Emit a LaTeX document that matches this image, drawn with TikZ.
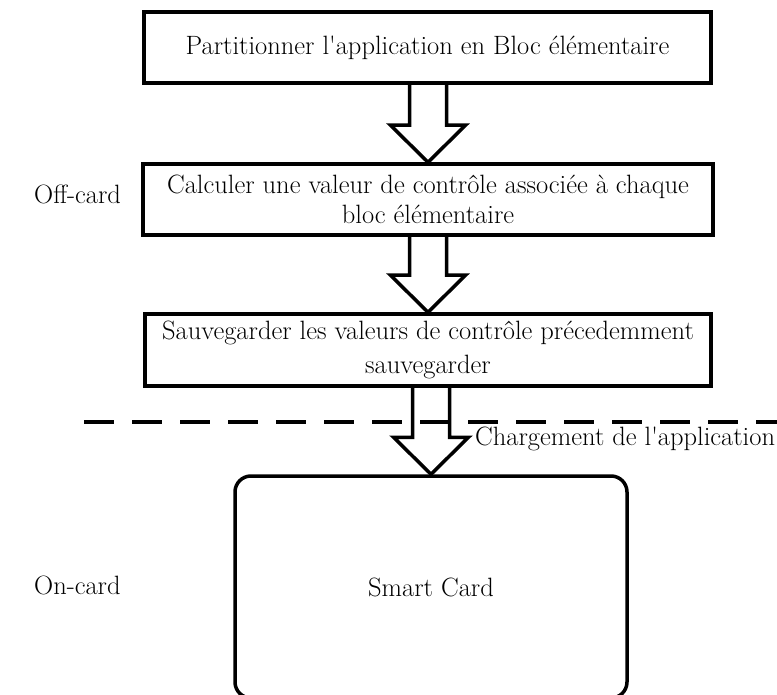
\documentclass[tikz,border=0pt]{standalone}
\usetikzlibrary{calc}
\begin{document}
\begin{tikzpicture}[x=1pt,y=-1pt,
  every node/.style={font=\fontsize{26.5}{30}\selectfont},
  stepbox/.style={draw,line width=3.5pt,rectangle,align=center,inner sep=0pt},
  cardbox/.style={draw,line width=3.5pt,rounded corners=16pt,inner sep=0pt},
  arrowline/.style={draw,line width=3.5pt,line join=miter},
  divider/.style={line width=3.5pt,dash pattern=on 30pt off 18pt},
  sidelabel/.style={anchor=base west,inner sep=0pt}]
  \useasboundingbox (0,0) rectangle (777,695);
  \clip (0,0) rectangle (777,695);

  % processing steps done before loading
  \node[stepbox,minimum width=567pt,minimum height=71pt] (b1) at (427.5,47.5)
    {Partitionner l\textquotesingle application en Bloc élémentaire};
  \node[stepbox,minimum width=570pt,minimum height=71pt,
        font=\fontsize{26.5}{30}\selectfont] (b2) at (428,199.5)
    {Calculer une valeur de contrôle associée à chaque\\bloc élémentaire};
  \node[stepbox,minimum width=566pt,minimum height=72pt,
        font=\fontsize{26.5}{34}\selectfont] (b3) at (428,350)
    {Sauvegarder les valeurs de contrôle précedemment\\sauvegarder};

  % the card itself, running past the bottom edge
  \node[cardbox,minimum width=392pt,minimum height=222pt] (card) at (431,587) {};
  \node (cardtext) at (card.center) {Smart Card};

  % hollow block arrows from step to step
  \newcommand\hollowarrow[2]{%
    \draw[arrowline] ($(#1 -| #2)+(-18.5,0)$) -- ($(#2)+(-18.5,-37)$)
      -- ($(#2)+(-37.5,-37)$) -- (#2) -- ($(#2)+(37.5,-37)$)
      -- ($(#2)+(18.5,-37)$) -- ($(#1 -| #2)+(18.5,0)$);}
  \hollowarrow{b1.south}{b2.north}
  \hollowarrow{b2.south}{b3.north}
  \hollowarrow{b3.south}{card.north}

  % off-card / on-card boundary
  \coordinate (dl) at (84,422);
  \coordinate (dr) at (790,422);
  \draw[divider] (dl) -- (dr);
  \node[sidelabel] (load) at (475,445) {Chargement de l\textquotesingle application};

  \node[sidelabel] (off) at (34,204) {Off-card};
  \node[sidelabel] (on) at (34,594) {On-card};
\end{tikzpicture}
\end{document}
